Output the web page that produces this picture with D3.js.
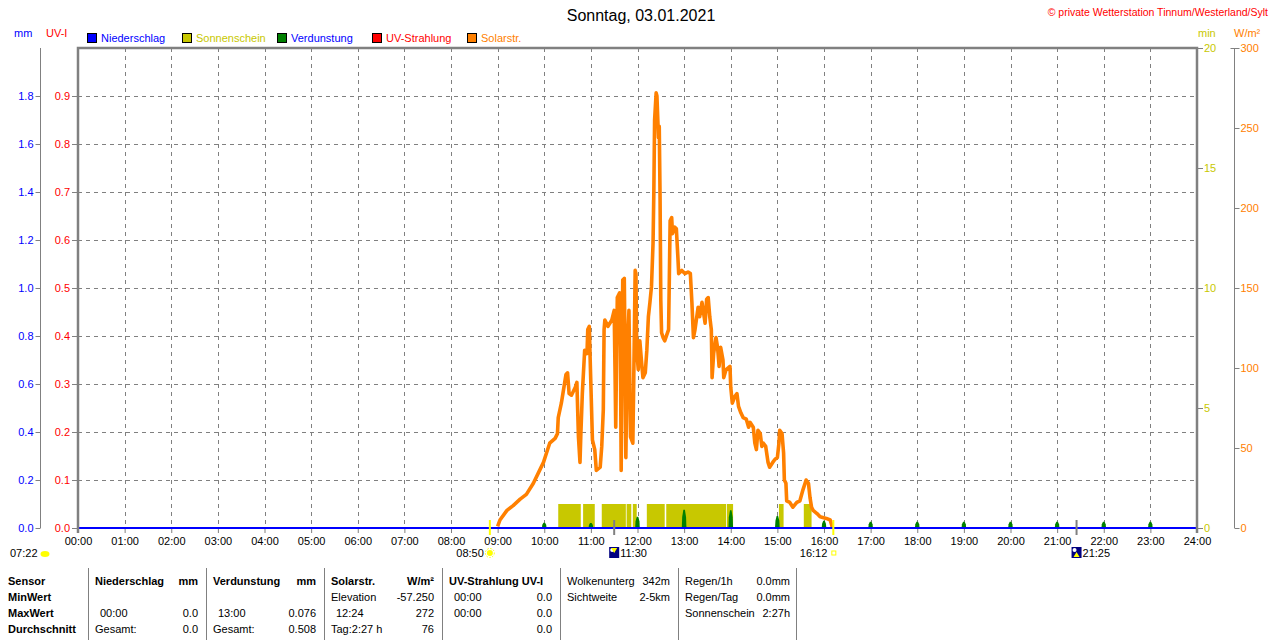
<!DOCTYPE html>
<html>
<head>
<meta charset="utf-8">
<title>Wetterstation Tinnum - Sonntag 03.01.2021</title>
<script src="https://cdn.jsdelivr.net/npm/d3@7"></script>
<style type="text/css">
* { margin: 0; padding: 0; }
body { background: #fff; font-family: "Liberation Sans", Arial, sans-serif; }
svg text { font-size: 11px; font-family: "Liberation Sans", Arial, sans-serif; }
.grid line { stroke: #808080; stroke-dasharray: 4,4; }
.tbl text.b { font-weight: bold; }
</style>
</head>
<body>
<div id="chart"></div>
<script type="text/javascript">
// --- texts
var dayTitle = "Sonntag, 03.01.2021";
var stationName = "\u00a9 private Wetterstation Tinnum/Westerland/Sylt";

// --- legend
var legendNames = ["Niederschlag", "Sonnenschein", "Verdunstung", "UV-Strahlung", "Solarstr."];
var legendColors = ["#0000ff", "#c8c800", "#008000", "#ff0000", "#ff8000"];
var legendTextColors = ["#0000ff", "#c8c800", "#0000ff", "#ff0000", "#ff8000"];

// --- axes ticks
var hourTicks = d3.range(0, 25);
var mmTicks = [0, 0.2, 0.4, 0.6, 0.8, 1.0, 1.2, 1.4, 1.6, 1.8];
var uvTicks = [0, 0.1, 0.2, 0.3, 0.4, 0.5, 0.6, 0.7, 0.8, 0.9];
var minTicks = [0, 5, 10, 15, 20];
var wTicks = [0, 50, 100, 150, 200, 250, 300];

// --- Solarstrahlung W/m2
var solarTime = ["09:00","09:03","09:12","09:20","09:29","09:37","09:46","09:52","09:59","10:03",
  "10:07","10:14","10:17","10:18","10:22","10:24","10:28","10:30","10:32","10:35",
  "10:40","10:42","10:44","10:46","10:47","10:49","10:52","10:55","10:56","10:58",
  "10:59","11:02","11:05","11:07","11:12","11:14","11:16","11:17","11:18","11:22",
  "11:27","11:30","11:31","11:32","11:34","11:37","11:38","11:39","11:41","11:43",
  "11:44","11:45","11:47","11:49","11:51","11:54","11:55","11:57","11:58","11:59",
  "12:01","12:03","12:05","12:07","12:10","12:12","12:14","12:16","12:18","12:20",
  "12:21","12:22","12:24","12:25","12:27","12:28","12:29","12:30","12:31","12:33",
  "12:35","12:40","12:41","12:42","12:44","12:45","12:48","12:50","12:52","12:53",
  "12:57","13:01","13:05","13:08","13:10","13:12","13:14","13:18","13:20","13:23",
  "13:27","13:29","13:31","13:33","13:35","13:36","13:38","13:41","13:43","13:45",
  "13:47","13:50","13:51","13:54","13:59","14:00","14:02","14:05","14:08","14:10",
  "14:13","14:16","14:20","14:23","14:25","14:29","14:31","14:33","14:35","14:38",
  "14:40","14:42","14:45","14:48","14:50","14:54","14:57","15:00","15:02","15:03",
  "15:06","15:08","15:09","15:11","15:12","15:16","15:20","15:25","15:29","15:33",
  "15:37","15:40","15:42","15:44","15:46","15:51","15:55","16:03","16:08","16:11"];
var solarWm2 = [1,5,11,14,18,21,28,34,41,47,
  53,56,59,69,78,84,96,97,84,83,
  88,91,57,41,57,84,111,109,124,126,
  107,55,49,36,38,51,74,124,130,126,
  130,136,101,63,144,147,113,36,155,156,
  111,44,111,136,57,53,86,161,159,111,
  99,117,105,94,97,111,132,141,151,178,
  209,255,272,270,244,251,209,142,122,119,
  117,124,157,192,194,184,188,187,169,159,
  161,159,160,159,141,119,124,138,132,141,
  128,143,144,132,124,94,109,119,113,101,
  113,105,94,99,101,88,78,82,84,76,
  72,69,68,63,66,63,53,49,61,59,
  51,53,51,41,38,41,43,44,53,61,
  59,47,30,28,17,16,13,16,17,24,
  30,28,19,13,11,9,7,6,5,0];

// --- Sonnenschein (min per minute)
var sunStart = ["10:18","10:50","11:14","11:46","11:54","12:12","12:37","13:55","15:02","15:34"];
var sunEnd   = ["10:47","11:05","11:45","11:52","11:59","12:35","13:54","14:03","15:08","15:44"];
var sunValue = [1, 1, 1, 1, 1, 1, 1, 1, 1, 1];

// --- Verdunstung mm
var evapTime = ["10:00","11:00","12:00","13:00","14:00","15:00","16:00","17:00","18:00","19:00","20:00","21:00","22:00","23:00"];
var evapMm = [0.022, 0.021, 0.047, 0.076, 0.074, 0.05, 0.03, 0.026, 0.026, 0.026, 0.026, 0.026, 0.026, 0.026];

// --- Sonne / Mond
var twilightLabel = "07:22";
var sunRise = "08:50", sunSet = "16:12";
var moonRise = "11:30", moonSet = "21:25";

// --- table
var tableRowNames = ["Sensor", "MinWert", "MaxWert", "Durchschnitt"];
var colNieder = [["Niederschlag", "mm"], ["", ""], ["00:00", "0.0"], ["Gesamt:", "0.0"]];
var colVerd = [["Verdunstung", "mm"], ["", ""], ["13:00", "0.076"], ["Gesamt:", "0.508"]];
var colSolar = [["Solarstr.", "W/m\u00b2"], ["Elevation", "-57.250"], ["12:24", "272"], ["Tag:2:27 h", "76"]];
var colUV = [["UV-Strahlung UV-I", ""], ["00:00", "0.0"], ["00:00", "0.0"], ["", "0.0"]];
var colCloud = [["Wolkenunterg", "342m"], ["Sichtweite", "2-5km"], ["", ""], ["", ""]];
var colRain = [["Regen/1h", "0.0mm"], ["Regen/Tag", "0.0mm"], ["Sonnenschein", "2:27h"], ["", ""]];

window.onload = function() {
  function toMin(s) {
    var p = s.split(":");
    return +p[0] * 60 + +p[1];
  }

  var W = 1280, H = 641;
  var left = 78, right = 1197, top = 48, bottom = 528;

  var svg = d3.select("#chart").append("svg")
    .attr("width", W).attr("height", H);

  var x = d3.scaleLinear().domain([0, 1440]).range([left, right]);
  var yUV = d3.scaleLinear().domain([0, 1]).range([bottom, top]);
  var yMM = d3.scaleLinear().domain([0, 2]).range([bottom, top]);
  var yMin = d3.scaleLinear().domain([0, 20]).range([bottom, top]);
  var yW = d3.scaleLinear().domain([0, 300]).range([bottom, top]);

  // title + station
  svg.append("text").attr("x", 641).attr("y", 21)
    .attr("text-anchor", "middle").style("font-size", "16px")
    .attr("fill", "#000").text(dayTitle);
  svg.append("text").attr("x", 1268).attr("y", 16)
    .attr("text-anchor", "end").style("font-size", "10.5px")
    .attr("fill", "#ff0000").text(stationName);

  // unit labels
  svg.append("text").attr("x", 14).attr("y", 37).attr("fill", "#0000ff").text("mm");
  svg.append("text").attr("x", 46).attr("y", 37).attr("fill", "#ff0000").text("UV-I");
  svg.append("text").attr("x", 1198).attr("y", 37).attr("fill", "#c8c800").text("min");
  svg.append("text").attr("x", 1234).attr("y", 37).attr("fill", "#ff8000").text("W/m\u00b2");

  // legend
  var legX = [87, 182, 277, 372, 467];
  var leg = svg.append("g").selectAll("g").data(legendNames).enter().append("g")
    .attr("transform", function(d, i) { return "translate(" + legX[i] + ",33)"; });
  leg.append("rect").attr("x", 0.5).attr("y", 0.5).attr("width", 9).attr("height", 9)
    .attr("fill", function(d, i) { return legendColors[i]; })
    .attr("stroke", "#000");
  leg.append("text").attr("x", 14).attr("y", 9)
    .attr("fill", function(d, i) { return legendTextColors[i]; })
    .text(function(d) { return d; });

  // grid
  var grid = svg.append("g").attr("class", "grid");
  grid.selectAll("line.h").data(uvTicks.filter(function(d) { return d > 0; })).enter()
    .append("line").attr("class", "h")
    .attr("x1", left).attr("x2", right)
    .attr("y1", function(d) { return Math.round(yUV(d)) + 0.5; })
    .attr("y2", function(d) { return Math.round(yUV(d)) + 0.5; });
  grid.selectAll("line.v").data(hourTicks.slice(1, 24)).enter()
    .append("line").attr("class", "v")
    .attr("y1", top).attr("y2", bottom)
    .attr("x1", function(d) { return Math.round(x(d * 60)) + 0.5; })
    .attr("x2", function(d) { return Math.round(x(d * 60)) + 0.5; });

  // axes
  function styleAxis(g, color) {
    g.selectAll("line").attr("stroke", "#808080");
    g.selectAll("path").attr("stroke", "#808080");
    g.selectAll("text").attr("fill", color)
      .style("font-size", "11px").attr("font-family", null);
  }
  var mmAxis = svg.append("g").attr("transform", "translate(40.5,0)")
    .call(d3.axisLeft(yMM).tickValues(mmTicks).tickFormat(d3.format(".1f"))
      .tickSize(5).tickSizeOuter(0).tickPadding(2));
  mmAxis.select("path").attr("d", "M0," + top + "V" + bottom);
  styleAxis(mmAxis, "#0000ff");

  var uvAxis = svg.append("g").attr("transform", "translate(77,0)")
    .call(d3.axisLeft(yUV).tickValues(uvTicks).tickFormat(d3.format(".1f"))
      .tickSize(5).tickSizeOuter(0).tickPadding(2));
  uvAxis.select("path").remove();
  styleAxis(uvAxis, "#ff0000");

  var minAxis = svg.append("g").attr("transform", "translate(1198,0)")
    .call(d3.axisRight(yMin).tickValues(minTicks).tickSize(5).tickSizeOuter(0).tickPadding(1));
  minAxis.select("path").remove();
  styleAxis(minAxis, "#c8c800");

  var wAxis = svg.append("g").attr("transform", "translate(1234.5,0)")
    .call(d3.axisRight(yW).tickValues(wTicks).tickSize(5).tickSizeOuter(0).tickPadding(1));
  wAxis.select("path").attr("d", "M0," + top + "V" + bottom + "M-4," + (top + 0.5) + "H0");
  styleAxis(wAxis, "#ff8000");

  var hourAxis = svg.append("g").attr("transform", "translate(0," + bottom + ")")
    .call(d3.axisBottom(x).tickValues(hourTicks.map(function(h) { return h * 60; }))
      .tickFormat(function(d) { return d3.format("02d")(d / 60) + ":00"; })
      .tickSize(5).tickSizeOuter(0).tickPadding(4));
  hourAxis.select("path").remove();
  styleAxis(hourAxis, "#000");

  // sunshine bars
  svg.append("g").selectAll("rect").data(sunStart).enter().append("rect")
    .attr("x", function(d) { return x(toMin(d)); })
    .attr("width", function(d, i) { return x(toMin(sunEnd[i])) - x(toMin(d)); })
    .attr("y", function(d, i) { return yMin(sunValue[i]); })
    .attr("height", function(d, i) { return yMin(0) - yMin(sunValue[i]); })
    .attr("fill", "#c8c800");

  // evaporation spikes
  var evapArea = d3.area()
    .x(function(p) { return x(p[0]); })
    .y0(yMM(0))
    .y1(function(p) { return yMM(p[1]); });
  svg.append("g").selectAll("path").data(evapTime).enter().append("path")
    .attr("d", function(d, i) {
      var t = toMin(d), v = evapMm[i];
      return evapArea([[t - 3, 0], [t - 2.5, v * 0.6], [t - 1, v], [t + 1, v], [t + 2.5, v * 0.6], [t + 3, 0]]);
    })
    .attr("fill", "#008000");

  // solar radiation line
  var solarLine = d3.line()
    .x(function(d, i) { return x(toMin(solarTime[i])); })
    .y(function(d) { return yW(d); });
  svg.append("path").datum(solarWm2)
    .attr("d", solarLine)
    .attr("fill", "none")
    .attr("stroke", "#ff8000")
    .attr("stroke-width", 3.6)
    .attr("stroke-linejoin", "round");

  // precipitation zero line
  svg.append("line").attr("x1", left).attr("x2", right)
    .attr("y1", yMM(0)).attr("y2", yMM(0))
    .attr("stroke", "#0000ff").attr("stroke-width", 2);

  // frame
  svg.append("path")
    .attr("d", "M" + left + "," + (bottom + 5) + "V" + top + "H" + right + "V" + (bottom + 5))
    .attr("fill", "none").attr("stroke", "#808080").attr("stroke-width", 2.5);

  // sun / moon markers
  var markY = 553;
  [sunRise, sunSet].forEach(function(s) {
    svg.append("line").attr("x1", x(toMin(s))).attr("x2", x(toMin(s)))
      .attr("y1", 520).attr("y2", 535).attr("stroke", "#ffff00").attr("stroke-width", 2);
  });
  [moonRise, moonSet].forEach(function(s) {
    svg.append("line").attr("x1", x(toMin(s))).attr("x2", x(toMin(s)))
      .attr("y1", 520).attr("y2", 535).attr("stroke", "#808080").attr("stroke-width", 2);
  });

  svg.append("text").attr("x", 10).attr("y", markY + 4).attr("fill", "#000").text(twilightLabel);
  svg.append("ellipse").attr("cx", 45).attr("cy", markY + 1).attr("rx", 4.5).attr("ry", 3)
    .attr("fill", "#ffff00");

  var xr = x(toMin(sunRise));
  svg.append("text").attr("x", xr - 6).attr("y", markY + 4).attr("text-anchor", "end")
    .attr("fill", "#000").text(sunRise);
  svg.append("circle").attr("cx", xr).attr("cy", markY).attr("r", 3).attr("fill", "#ffff00");
  svg.append("circle").attr("cx", xr).attr("cy", markY).attr("r", 4.5)
    .attr("fill", "none").attr("stroke", "#ffff00").attr("stroke-dasharray", "1.5,1.5");

  var xs = x(toMin(sunSet));
  svg.append("text").attr("x", xs - 6).attr("y", markY + 4).attr("text-anchor", "end")
    .attr("fill", "#000").text(sunSet);
  svg.append("rect").attr("x", xs - 1.5).attr("y", markY - 2).attr("width", 4).attr("height", 4)
    .attr("fill", "none").attr("stroke", "#ffff00");

  [moonRise, moonSet].forEach(function(s, k) {
    var xm = x(toMin(s));
    svg.append("rect").attr("x", xm - 5).attr("y", markY - 6).attr("width", 10).attr("height", 11)
      .attr("fill", "#000080");
    svg.append("circle").attr("cx", xm - 2).attr("cy", markY - 3).attr("r", 2).attr("fill", "#fff");
    svg.append("path")
      .attr("d", k == 0
        ? "M" + (xm - 3) + "," + (markY - 5) + "h6l-3,5z"
        : "M" + (xm - 3) + "," + (markY + 4) + "h6l-3,-5z")
      .attr("fill", "#ffff00");
    svg.append("text").attr("x", xm + 6).attr("y", markY + 4).attr("fill", "#000").text(s);
  });

  // table
  var tbl = svg.append("g").attr("class", "tbl");
  var sepX = [88, 206, 324, 442, 560, 678, 796];
  tbl.selectAll("line").data(sepX).enter().append("line")
    .attr("x1", function(d) { return d + 0.5; }).attr("x2", function(d) { return d + 0.5; })
    .attr("y1", 568).attr("y2", 640).attr("stroke", "#808080");
  var rowY = [585, 601, 617, 633];
  tableRowNames.forEach(function(n, r) {
    tbl.append("text").attr("class", "b").attr("x", 8).attr("y", rowY[r])
      .attr("fill", "#000").text(n);
  });
  var cols = [colNieder, colVerd, colSolar, colUV, colCloud, colRain];
  cols.forEach(function(col, c) {
    var x0 = sepX[c];
    col.forEach(function(cell, r) {
      var bold = r == 0 && c < 4;
      var isTime = /^\d\d:\d\d$/.test(cell[0]);
      tbl.append("text").attr("class", bold ? "b" : null)
        .attr("x", x0 + (isTime ? 12 : 7)).attr("y", rowY[r])
        .attr("fill", "#000").text(cell[0]);
      tbl.append("text").attr("class", bold ? "b" : null)
        .attr("x", x0 + (c == 5 ? 112 : 110)).attr("y", rowY[r])
        .attr("text-anchor", "end")
        .attr("fill", "#000").text(cell[1]);
    });
  });
};
</script>
</head>
<body>
</body>
</html>
